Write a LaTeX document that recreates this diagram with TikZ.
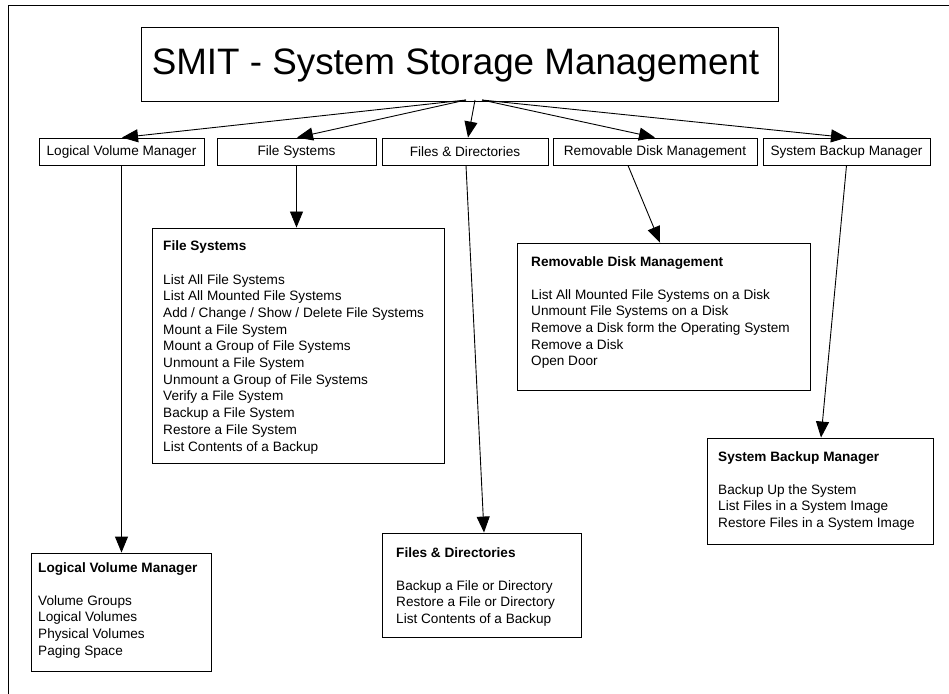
\documentclass[tikz,border=0pt]{standalone}
\usepackage{fontspec}
\setmainfont{Liberation Sans}
\usetikzlibrary{arrows.meta}
\begin{document}
\begin{tikzpicture}[x=1bp,y=-1bp,
  box/.style={draw, line width=0.9bp, inner sep=0pt, rectangle},
  lvlbox/.style={box, minimum height=27bp, font=\fontsize{13.6bp}{16.7bp}\selectfont},
  item/.style={anchor=base west, inner sep=0pt, font=\fontsize{13.6bp}{16.7bp}\selectfont},
  head/.style={item, font=\fontsize{13.6bp}{16.7bp}\selectfont\bfseries},
  arr/.style={line width=0.9bp, -{Triangle[length=16bp,width=13bp]}},
]
\useasboundingbox (0,0) rectangle (949,694);
\draw[line width=0.9bp] (8,694) -- (8,5) -- (949,5);

% title
\node[box, minimum width=637bp, minimum height=74bp] (title) at (459.5,64) {};
\node[anchor=base, inner sep=0pt, font=\fontsize{36.8bp}{40bp}\selectfont] (titletext) at (455.5,75) {SMIT - System Storage Management};

% second level
\node[lvlbox, minimum width=165bp] (lvm) at (121.5,151.5) {Logical Volume Manager};
\node[lvlbox, minimum width=159bp] (fs) at (296.5,151.5) {File Systems};
\node[lvlbox, minimum width=166bp] (fd) at (465,151.5) {Files \& Directories};
\node[lvlbox, minimum width=204bp] (rdm) at (655,151.5) {Removable Disk Management};
\node[lvlbox, minimum width=167bp] (sbm) at (846.5,151.5) {System Backup Manager};

\coordinate (o1) at (466,100);
\coordinate (o2) at (475,100);
\coordinate (o3) at (482,100);
\draw[arr] (o1) -- ([xshift=0.5bp]lvm.north);
\draw[arr] (o1) -- ([xshift=0.5bp]fs.north);
\draw[arr] (o2) -- ([xshift=3bp]fd.north);
\draw[arr] (o3) -- (rdm.north);
\draw[arr] (o3) -- ([xshift=0.5bp]sbm.north);

% detail boxes
\node[box, minimum width=292bp, minimum height=235bp] (fsd) at (298,345.5) {};
\node[box, minimum width=293bp, minimum height=147bp] (rdmd) at (663.5,316.5) {};
\node[box, minimum width=226bp, minimum height=106bp] (sbmd) at (820,491) {};
\node[box, minimum width=199bp, minimum height=104bp] (fdd) at (481.5,585) {};
\node[box, minimum width=180bp, minimum height=118bp] (lvmd) at (121,612) {};

% detail arrows
\draw[arr] (lvm.south) -- (lvm.south |- lvmd.north);
\draw[arr] (fs.south) -- (fs.south |- fsd.north);
\draw[arr] ([xshift=1bp]fd.south) -- ([xshift=2.5bp]fdd.north);
\draw[arr] ([xshift=-27bp]rdm.south) -- ([xshift=-3.5bp]rdmd.north);
\draw[arr] (sbm.south) -- ([xshift=1bp]sbmd.north);

% File Systems text
\node[head] (fsh) at (163,250) {File Systems};
\foreach \t [count=\i] in {List All File Systems, List All Mounted File Systems,
  Add / Change / Show / Delete File Systems, Mount a File System,
  Mount a Group of File Systems, Unmount a File System,
  Unmount a Group of File Systems, Verify a File System,
  Backup a File System, Restore a File System, List Contents of a Backup}
  \node[item] (fsi\i) at (163,{284+16.7*(\i-1)}) {\t};

% Removable Disk Management text
\node[head] (rdmh) at (531,266) {Removable Disk Management};
\foreach \t [count=\i] in {List All Mounted File Systems on a Disk,
  Unmount File Systems on a Disk, Remove a Disk form the Operating System,
  Remove a Disk, Open Door}
  \node[item] (rdmi\i) at (531,{299+16.7*(\i-1)}) {\t};

% System Backup Manager text
\node[head] (sbmh) at (718,461) {System Backup Manager};
\foreach \t [count=\i] in {Backup Up the System, List Files in a System Image,
  Restore Files in a System Image}
  \node[item] (sbmi\i) at (718,{494+16.7*(\i-1)}) {\t};

% Files & Directories text
\node[head] (fdh) at (396,557) {Files \& Directories};
\foreach \t [count=\i] in {Backup a File or Directory, Restore a File or Directory,
  List Contents of a Backup}
  \node[item] (fdi\i) at (396,{590+16.7*(\i-1)}) {\t};

% Logical Volume Manager text
\node[head] (lvmh) at (38,572) {Logical Volume Manager};
\foreach \t [count=\i] in {Volume Groups, Logical Volumes, Physical Volumes, Paging Space}
  \node[item] (lvmi\i) at (38,{605+16.7*(\i-1)}) {\t};
\end{tikzpicture}
\end{document}
